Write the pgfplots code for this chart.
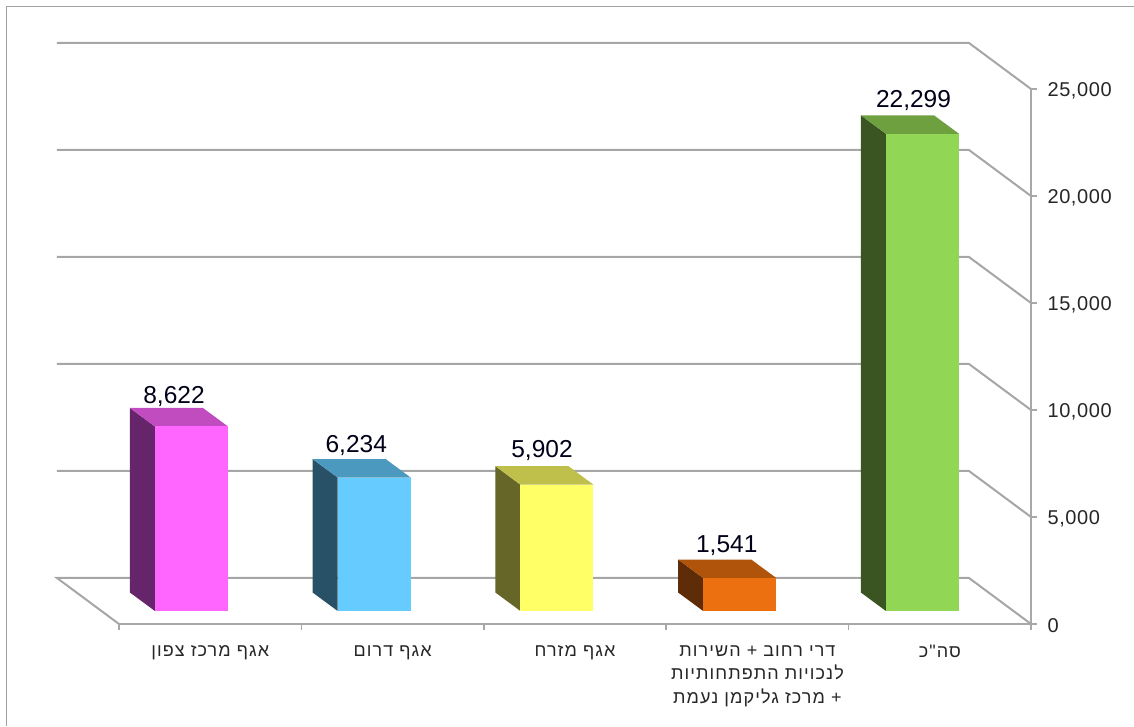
\documentclass[border=0pt]{standalone}
\usepackage{pgfplots}
\pgfplotsset{compat=1.18}
\usepackage{fontspec}
\setmainfont{Liberation Sans}
\newfontfamily\hebfont[Script=Hebrew,LetterSpace=6]{Liberation Sans}
\newfontfamily\numfont[LetterSpace=3]{Liberation Sans}
\TeXXeTstate=1
\definecolor{gridg}{HTML}{A6A6A6}
\definecolor{axisg}{HTML}{A8A8A8}
\definecolor{frameg}{HTML}{A0A0A0}
\definecolor{pinkF}{HTML}{FF66FF}\definecolor{pinkS}{HTML}{66256A}\definecolor{pinkT}{HTML}{C04CC0}
\definecolor{blueF}{HTML}{66CCFF}\definecolor{blueS}{HTML}{285067}\definecolor{blueT}{HTML}{4C99BF}
\definecolor{yelF}{HTML}{FFFF66}\definecolor{yelS}{HTML}{666628}\definecolor{yelT}{HTML}{BFBF4C}
\definecolor{oraF}{HTML}{EC700F}\definecolor{oraS}{HTML}{5E2C06}\definecolor{oraT}{HTML}{B1540B}
\definecolor{greF}{HTML}{92D655}\definecolor{greS}{HTML}{3A5522}\definecolor{greT}{HTML}{6EA040}
\newcommand{\frontbar}[5]{% colour, x, value, label xshift, label yshift
  \addplot[ybar, bar width=73pt, bar shift=0pt, fill=#1, draw=none,
    nodes near coords,
    every node near coord/.style={anchor=base, xshift=#4, yshift=#5, text=black!90!blue, font=\fontsize{24.5}{24}\selectfont, inner sep=0pt, /pgf/number format/assume math mode=true}]
    coordinates {(#2,#3)};
}
\begin{document}
\begin{tikzpicture}[x=1pt,y=1pt]
\useasboundingbox (0,0) rectangle (1134,726);
\draw[frameg, line width=1.6pt] (6.5,0) -- (6.5,719.5) -- (1134,719.5);
% walls, floor, gridlines
\begin{axis}[
  at={(119pt,102pt)}, anchor=south west, scale only axis,
  width=912pt, height=535pt,
  xmin=0, xmax=5, ymin=0, ymax=25000,
  clip=false,
  axis x line=bottom, axis y line=right,
  axis line style={-, axisg, line width=2.6pt},
  xtick={0,1,2,3,4,5},
  x tick label as interval=true,
  xticklabels={
    {\hebfont\beginR אגף מרכז צפון\endR},
    {\hebfont\beginR אגף דרום\endR},
    {\hebfont\beginR אגף מזרח\endR},
    {\hebfont\beginR דרי רחוב + השירות\endR\\\hebfont\beginR לנכויות התפתחותיות\endR\\\hebfont\beginR + מרכז גליקמן נעמת\endR},
    {\hebfont\beginR סה"כ\endR}},
  xticklabel style={align=center, font=\fontsize{18}{23.5}\selectfont, text=black!85, yshift=-12pt},
  ytick={0,5000,10000,15000,20000,25000},
  scaled y ticks=false,
  yticklabel style={font=\fontsize{20}{20}\numfont, text=black!85, xshift=7pt, yshift=-1.5pt, /pgf/number format/assume math mode=true, /pgf/number format/1000 sep={,}},
  tick style={axisg, line width=1.5pt},
  major tick length=6pt,
  tick align=outside,
]
\addplot[gridg, line width=2pt] coordinates {(5,0) (4.66,2150) (-0.34,2150) (0,0)};
\addplot[gridg, line width=2pt] coordinates {(5,5000) (4.66,7150) (-0.34,7150)};
\addplot[gridg, line width=2pt] coordinates {(5,10000) (4.66,12150) (-0.34,12150)};
\addplot[gridg, line width=2pt] coordinates {(5,15000) (4.66,17150) (-0.34,17150)};
\addplot[gridg, line width=2pt] coordinates {(5,20000) (4.66,22150) (-0.34,22150)};
\addplot[gridg, line width=2pt] coordinates {(5,25000) (4.66,27150) (-0.34,27150)};
\end{axis}
% bars, in the plane of their front faces
\begin{axis}[
  at={(100.1pt,115pt)}, anchor=south west, scale only axis,
  width=913.75pt, height=535pt,
  xmin=0, xmax=5, ymin=0, ymax=25000,
  clip=false, hide axis,
]
% pink
\addplot[fill=pinkS, draw=none] coordinates {(0.3,0) (0.3,8622) (0.163,9486) (0.163,864)} -- cycle;
\addplot[fill=pinkT, draw=none] coordinates {(0.3,8622) (0.7,8622) (0.563,9486) (0.163,9486)} -- cycle;
\frontbar{pinkF}{0.5}{8622}{-17.5pt}{22.5pt}
% blue
\addplot[fill=blueS, draw=none] coordinates {(1.3,0) (1.3,6234) (1.163,7098) (1.163,864)} -- cycle;
\addplot[fill=blueT, draw=none] coordinates {(1.3,6234) (1.7,6234) (1.563,7098) (1.163,7098)} -- cycle;
\frontbar{blueF}{1.5}{6234}{-18pt}{25.5pt}
% yellow
\addplot[fill=yelS, draw=none] coordinates {(2.3,0) (2.3,5902) (2.163,6766) (2.163,864)} -- cycle;
\addplot[fill=yelT, draw=none] coordinates {(2.3,5902) (2.7,5902) (2.563,6766) (2.163,6766)} -- cycle;
\frontbar{yelF}{2.5}{5902}{-15pt}{27.5pt}
% orange
\addplot[fill=oraS, draw=none] coordinates {(3.3,0) (3.3,1541) (3.163,2405) (3.163,864)} -- cycle;
\addplot[fill=oraT, draw=none] coordinates {(3.3,1541) (3.7,1541) (3.563,2405) (3.163,2405)} -- cycle;
\frontbar{oraF}{3.5}{1541}{-13pt}{26pt}
% green
\addplot[fill=greS, draw=none] coordinates {(4.3,0) (4.3,22299) (4.163,23163) (4.163,864)} -- cycle;
\addplot[fill=greT, draw=none] coordinates {(4.3,22299) (4.7,22299) (4.563,23163) (4.163,23163)} -- cycle;
\frontbar{greF}{4.5}{22299}{-9pt}{26.5pt}
\end{axis}
\end{tikzpicture}
\end{document}
